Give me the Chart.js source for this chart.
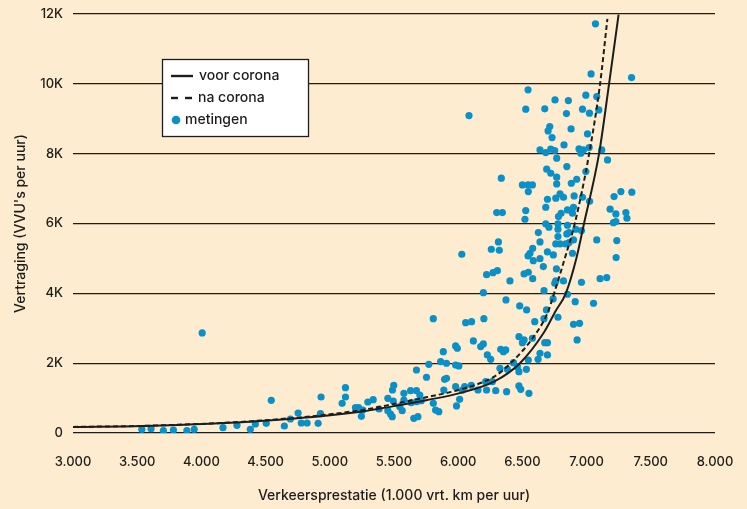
<!DOCTYPE html>
<html>
<head>
<meta charset="utf-8">
<script src="https://cdn.jsdelivr.net/npm/chart.js@4.4.1/dist/chart.umd.min.js"></script>
<style>
  html, body { margin: 0; padding: 0; background: #fdecd0; }
  #wrap { width: 747px; height: 509px; position: relative; }
</style>
</head>
<body>
<div id="wrap"><canvas id="c" width="747" height="509"></canvas></div>
<script>
// ---- Data ----
const xTicks = [3000, 3500, 4000, 4500, 5000, 5500, 6000, 6500, 7000, 7500, 8000];
const yTicks = [0, 2000, 4000, 6000, 8000, 10000, 12000];

// "voor corona" curve
const voorX = [3000, 3546, 4459, 5239, 5498, 5759, 6019, 6278, 6481, 6666, 6760, 6838, 6920, 6980, 7097, 7175, 7249];
const voorY = [170, 200, 345, 610, 770, 945, 1150, 1470, 2000, 2870, 3500, 4000, 5000, 6000, 8000, 10000, 11980];

// "na corona" curve
const naX = [3000, 3546, 4459, 5239, 5498, 5759, 6019, 6278, 6409, 6588, 6695, 6747, 6830, 6908, 7020, 7105, 7162];
const naY = [175, 205, 355, 650, 830, 1030, 1250, 1610, 2000, 2760, 3430, 4000, 5000, 6000, 8000, 10000, 11860];

// "metingen" measurements
const measX = [
  3536,3608,3704,3782,3887,3944,4168,4277,4381,4420,4505,4544,4646,4693,4753,4778,4823,4909,4927,4932,
  5096,5122,5122,5200,5225,5246,5257,5296,5338,5384,5452,5452,5473,5486,5488,5498,5494,5545,5564,5577,5577,
  5629,5634,5654,5686,5675,5675,5701,5712,5675,5753,5771,5806,5824,5849,5863,5884,5888,5894,5909,5909,
  5980,5980,5993,6005,5987,6011,5980,6032,6050,6102,6118,6154,6175,6196,6221,6227,6253,6214,6266,6292,
  6331,6352,6370,6325,6377,6383,6430,6461,6473,6487,6473,6531,6551,6473,6500,6513,6546,6578,6622,6637,
  6674,6695,6695,6596,
  6300,6344,6313,6258,6320,6028,6221,6271,6305,6403,6196,6372,5806,6058,6104,6200,
  7035,7350,6544,6754,6858,6994,7079,6526,6674,6968,6843,7022,7095,6713,6700,6879,6731,7007,6824,6637,
  6682,6721,6752,6941,6975,6955,7020,7118,6767,7163,6689,6721,6846,6994,6767,6923,6767,6881,6500,6544,
  6578,6546,6336,6793,6820,6760,6695,6903,6968,7214,7267,7352,
  6526,6520,6682,6801,6781,6851,6890,6898,7183,7228,7306,7314,7209,7228,6682,6707,6777,6777,6851,6846,
  6863,6916,6960,6624,6777,6637,6760,6793,6838,6863,6898,7079,7235,6580,6559,6544,6695,6741,6890,6585,
  6637,7230,6663,6765,6513,6546,6580,6760,6752,6820,6960,7105,7157,6668,6851,6739,6911,7054,6479,6533,
  6687,6668,6777,6898,6945,6926,7023,
  4006,6084,7069
];
const measY = [
  106,123,66,86,66,106,152,220,106,258,278,937,200,401,573,286,286,278,553,1031,
  850,1298,1031,725,725,478,659,888,954,688,994,639,544,467,1232,1367,917,754,639,1137,945,
  1212,868,421,467,1212,897,1089,925,1805,1596,1968,851,659,610,2043,2329,1232,1538,1567,1997,
  1948,2493,2427,1920,774,965,1327,1232,1327,1367,2636,1232,2474,2550,1232,2235,2111,1470,1470,1212,
  2398,2329,2378,1853,1183,1825,2014,1900,1347,1252,1756,1825,1137,2759,2587,2665,2091,2713,2111,2283,
  2587,2587,2235,3189,
  6312,6312,5472,5263,5234,5120,4535,4593,4650,4355,4020,3810,3275,3160,3189,3275,
  10285,10180,9827,9540,9521,9675,9635,9274,9283,9274,9148,9160,9254,8776,8652,8710,8461,8566,8251,8108,
  8031,8128,8088,8137,8108,8013,8174,8108,7870,7821,7555,7439,7630,7487,7326,7268,7134,7153,7105,7105,
  7105,6913,7297,6847,6752,6724,6695,6790,6752,6771,6913,6896,
  6369,6122,6466,6294,6197,6389,6294,6466,6409,6274,6312,6150,6025,6054,5988,5893,5988,5836,5950,5701,
  5740,5836,5797,5740,5625,5472,5415,5415,5415,5453,5530,5530,5510,5291,5148,5071,5186,5100,5148,4936,
  4994,5023,4765,4699,4555,4604,4421,4355,4289,4355,4317,4421,4450,4077,3974,3839,3762,3716,3639,3524,
  3524,3275,3315,3114,3142,2665,6637,
  2865,9090,11718
];

const labels = { voor: 'voor corona', na: 'na corona', meas: 'metingen' };

// ---- Styles ----
const FONT = 'Inter, "DejaVu Sans", sans-serif';
const WEIGHT = '500';
const INK = '#1d1d1b';
const DOT = '#0a90c8';

const toPts = (xs, ys) => xs.map((x, i) => ({ x: x, y: ys[i] }));
const fmtThousands = v => {
  const s = String(Math.round(v));
  return s.replace(/\B(?=(\d{3})+(?!\d))/g, '.');
};

const legendPlugin = {
  id: 'boxLegend',
  afterDraw(chart) {
    const ctx = chart.ctx;
    ctx.save();
    ctx.fillStyle = '#ffffff';
    ctx.fillRect(162.5, 59.5, 146, 77);
    ctx.strokeStyle = INK;
    ctx.lineWidth = 1.3;
    ctx.strokeRect(162.5, 59.5, 146, 77);

    ctx.font = WEIGHT + ' 14px ' + FONT;
    ctx.fillStyle = INK;
    ctx.textBaseline = 'middle';
    ctx.textAlign = 'left';

    // solid
    ctx.lineWidth = 2.4;
    ctx.setLineDash([]);
    ctx.beginPath(); ctx.moveTo(171, 76); ctx.lineTo(193, 76); ctx.stroke();
    ctx.fillText(chart.data.datasets[0].label, 199, 76);
    // dashed
    ctx.setLineDash([7, 7]);
    ctx.beginPath(); ctx.moveTo(171, 98); ctx.lineTo(192, 98); ctx.stroke();
    ctx.setLineDash([]);
    ctx.fillText(chart.data.datasets[1].label, 198, 98);
    // dot
    ctx.fillStyle = DOT;
    ctx.beginPath(); ctx.arc(176, 120, 4.3, 0, Math.PI * 2); ctx.fill();
    ctx.fillStyle = INK;
    ctx.fillText(chart.data.datasets[2].label, 185, 120);
    ctx.restore();
  }
};

new Chart(document.getElementById('c'), {
  type: 'scatter',
  data: {
    datasets: [
      {
        label: labels.voor, type: 'line', data: toPts(voorX, voorY),
        borderColor: INK, borderWidth: 2, pointRadius: 0, fill: false,
        cubicInterpolationMode: 'monotone', order: 0
      },
      {
        label: labels.na, type: 'line', data: toPts(naX, naY),
        borderColor: INK, borderWidth: 2, borderDash: [5, 3], pointRadius: 0, fill: false,
        cubicInterpolationMode: 'monotone', order: 1
      },
      {
        label: labels.meas, data: toPts(measX, measY),
        backgroundColor: DOT, borderWidth: 0, pointRadius: 3.6, order: 2
      }
    ]
  },
  options: {
    responsive: false,
    animation: false,
    layout: { padding: { top: 14, right: 32, left: 0, bottom: 0 } },
    plugins: { legend: { display: false }, tooltip: { enabled: false } },
    scales: {
      x: {
        type: 'linear', min: xTicks[0], max: xTicks[xTicks.length - 1],
        afterBuildTicks: s => { s.ticks = xTicks.map(v => ({ value: v })); },
        afterFit: s => { s.height = 76; s.paddingLeft = 0; s.paddingRight = 0; },
        grid: { display: false, drawTicks: false },
        border: { display: false },
        ticks: {
          callback: v => fmtThousands(v), color: INK, padding: 21,
          font: { family: FONT, size: 13, weight: WEIGHT }, maxRotation: 0, autoSkip: false
        },
        title: {
          display: true, text: 'Verkeersprestatie (1.000 vrt. km per uur)', color: INK,
          font: { family: FONT, size: 14, weight: WEIGHT }, padding: { top: 0, bottom: 5 }
        }
      },
      y: {
        type: 'linear', min: yTicks[0], max: yTicks[yTicks.length - 1],
        afterBuildTicks: s => { s.ticks = yTicks.map(v => ({ value: v })); },
        afterFit: s => { s.width = 73; s.paddingTop = 0; s.paddingBottom = 0; },
        grid: { color: INK, lineWidth: 1.2, drawTicks: false },
        border: { display: false },
        ticks: {
          callback: v => v === 0 ? '0' : (v / 1000) + 'K', color: INK, padding: 10,
          font: { family: FONT, size: 13, weight: WEIGHT }
        },
        title: {
          display: true, text: "Vertraging (VVU's per uur)", color: INK,
          font: { family: FONT, size: 14, weight: WEIGHT }, padding: { top: 12, bottom: 0 }
        }
      }
    }
  },
  plugins: [legendPlugin]
});
</script>
</body>
</html>
